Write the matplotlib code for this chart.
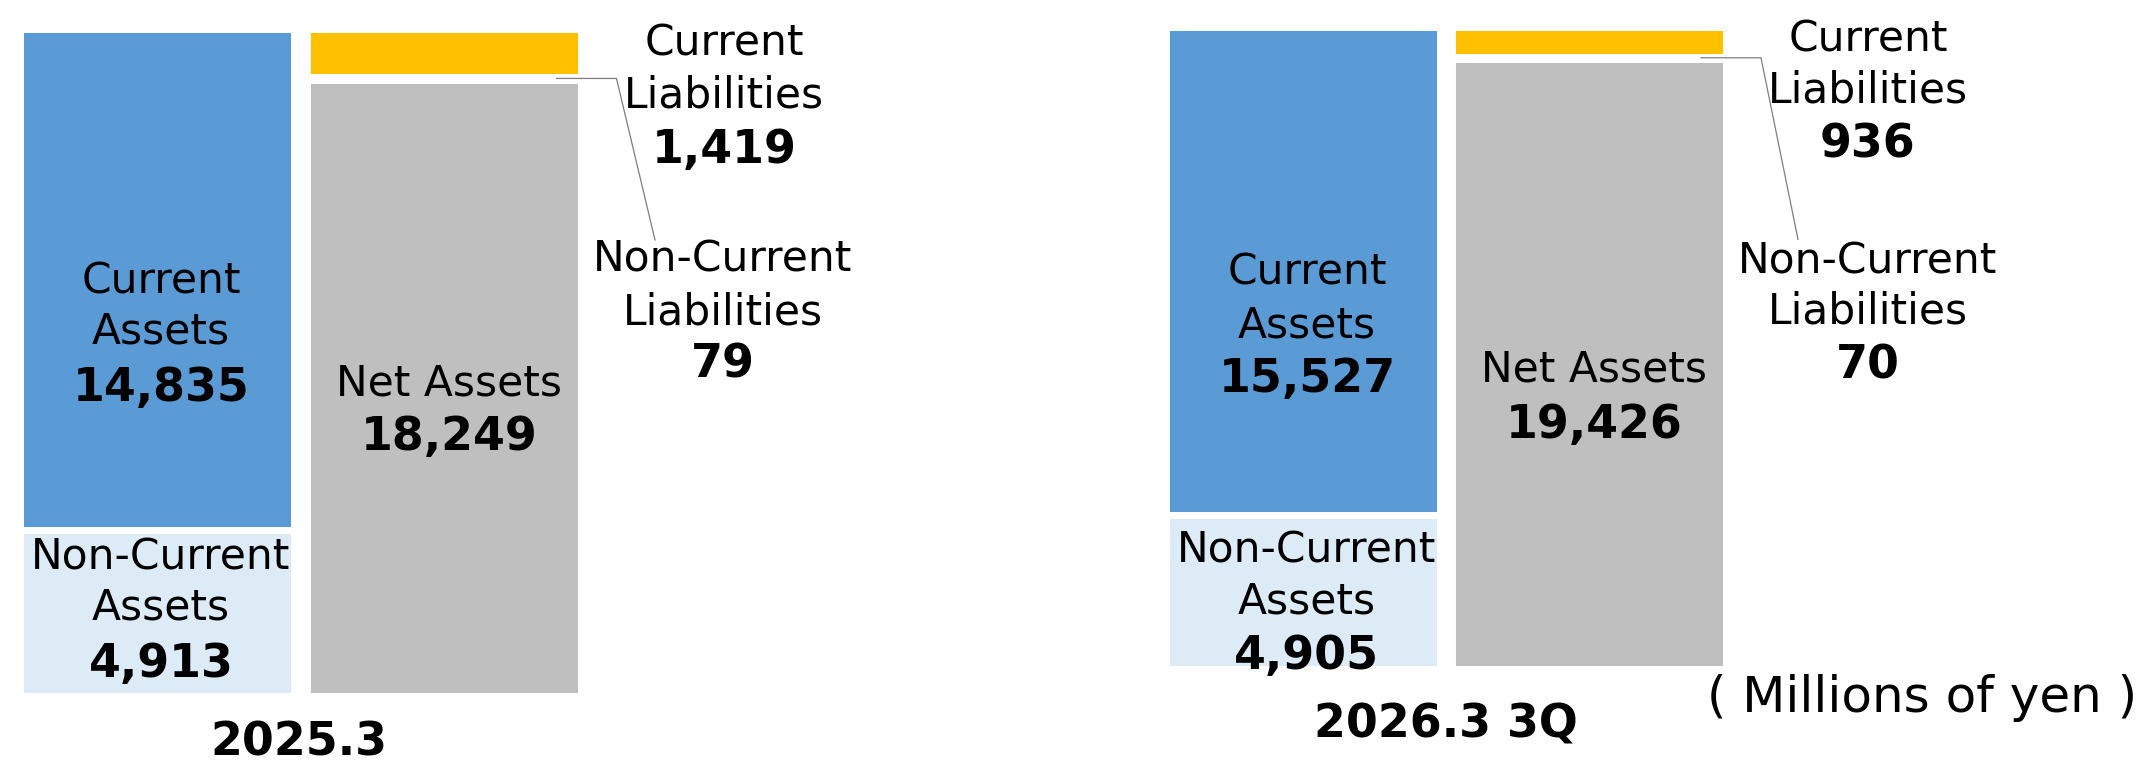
import matplotlib
matplotlib.use('Agg')
import matplotlib.pyplot as plt

W, H = 2143, 766
plt.rcParams['font.family'] = 'DejaVu Sans'

# data (millions of yen)
periods = ['2025.3', '2026.3 3Q']
current_assets = [14835, 15527]
noncurrent_assets = [4913, 4905]
current_liab = [1419, 936]
noncurrent_liab = [79, 70]
net_assets = [18249, 19426]

c_ca = '#5B9BD5'
c_nca = '#DDEBF7'
c_na = '#BFBFBF'
c_cl = '#FFC000'

# layout per period in pixels: left bar centre, bar spacing, top, bottom
layout = [(157, 287, 29.2, 695.5), (1303, 286, 27.3, 669.0)]
w = 0.958
lw = 5.0

# label spots (pixels): centre x, baselines of the name lines, baseline of value
spots = [
    dict(ca=(161, [293, 344], 400.6), nca=(161, [569, 620], 676.6),
         na=(449, [395.7], 450.4), cl=(724, [56, 107], 163),
         ncl=(723, [272, 325], 378), per=(299, 755), lead=(655, 240)),
    dict(ca=(1307, [284.3, 337], 391.8), nca=(1307, [562.8, 614], 669.3),
         na=(1594, [381], 438), cl=(1868, [51.3, 102.6], 157.3),
         ncl=(1868, [273.6, 323.4], 378.6), per=(1446, 738), lead=(1798, 239.3)),
]

fs_reg = 30.5
fs_bold = 33

fig = plt.figure(figsize=(W / 100, H / 100), dpi=100)


def ftext(x, y, s, **kw):
    fig.text(x / W, 1 - y / H, s, ha='center', va='baseline', color='black', **kw)


def block(spot, names, value):
    cx, bases, vb = spot
    for name, b in zip(names, bases):
        ftext(cx, b, name, fontsize=fs_reg)
    ftext(cx, vb, f'{value:,}', fontsize=fs_bold, fontweight='bold')


for i in range(2):
    c0, sp, top, bot = layout[i]
    x0 = c0 - (w / 2) * sp
    width = (1 + w) * sp
    ax = fig.add_axes([x0 / W, 1 - bot / H, width / W, (bot - top) / H])
    total = current_assets[i] + noncurrent_assets[i]
    ax.set_xlim(-w / 2, 1 + w / 2)
    ax.set_ylim(0, total)
    ax.axis('off')

    # assets column
    ax.bar(0, noncurrent_assets[i], w, color=c_nca, edgecolor='white', linewidth=lw)
    ax.bar(0, current_assets[i], w, bottom=noncurrent_assets[i], color=c_ca,
           edgecolor='white', linewidth=lw)
    # liabilities + net assets column
    ax.bar(1, net_assets[i], w, color=c_na, edgecolor='white', linewidth=lw)
    ax.bar(1, noncurrent_liab[i], w, bottom=net_assets[i], color='white',
           edgecolor='white', linewidth=lw)
    ax.bar(1, current_liab[i], w, bottom=net_assets[i] + noncurrent_liab[i],
           color=c_cl, edgecolor='white', linewidth=lw)

    # leader line from the non-current liabilities sliver to its label
    y_ncl = net_assets[i] + noncurrent_liab[i] / 2
    xs = 1 + w / 2 - 25 / sp
    xe = 1 + w / 2 + 35 / sp
    lx, ly = spots[i]['lead']
    end = ax.transData.inverted().transform((lx, H - ly))
    ax.plot([xs, xe, end[0]], [y_ncl, y_ncl, end[1]], color='#7F7F7F',
            linewidth=0.9, clip_on=False)

    s = spots[i]
    block(s['ca'], ['Current', 'Assets'], current_assets[i])
    block(s['nca'], ['Non-Current', 'Assets'], noncurrent_assets[i])
    block(s['na'], ['Net Assets'], net_assets[i])
    block(s['cl'], ['Current', 'Liabilities'], current_liab[i])
    block(s['ncl'], ['Non-Current', 'Liabilities'], noncurrent_liab[i])
    ftext(s['per'][0], s['per'][1], periods[i], fontsize=fs_bold, fontweight='bold')

fig.text(2137 / W, 1 - 712 / H, '( Millions of yen )', ha='right', va='baseline',
         fontsize=36, color='black')

fig.savefig('out.png', dpi=100)
